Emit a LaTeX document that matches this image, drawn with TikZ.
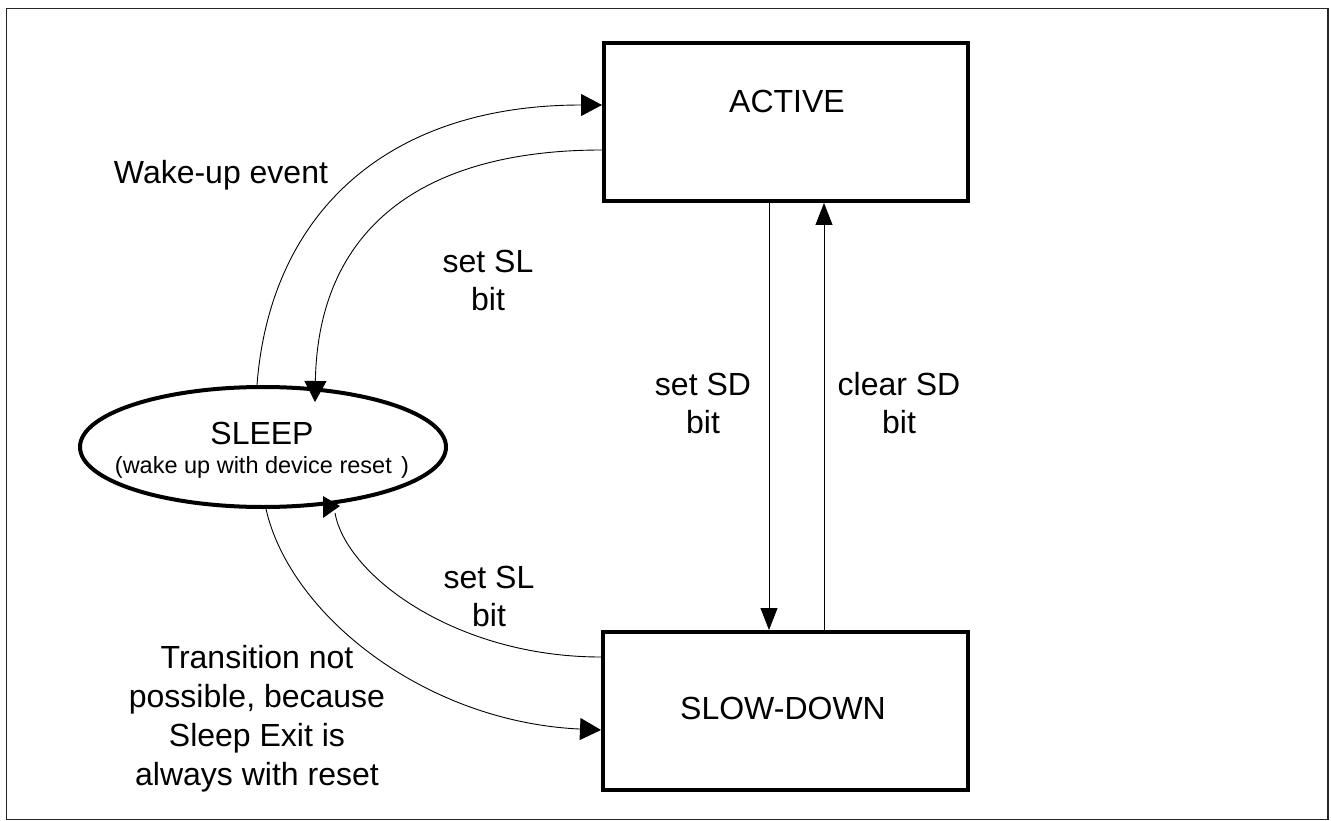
\documentclass[tikz,border=0pt]{standalone}
\usepackage{fontspec}
\setmainfont{Liberation Sans}
\usetikzlibrary{arrows.meta,shapes.geometric}
\begin{document}
\begin{tikzpicture}[x=1pt,y=-1pt,
  state/.style={draw, line width=4pt, rectangle, minimum width=364pt, minimum height=158pt, inner sep=0pt},
  conn/.style={line width=0.9pt},
  cta/.style={conn, -{Triangle[length=21pt,width=22pt]}},
  vta/.style={conn, -{Triangle[length=22pt,width=17pt]}},
  lbl/.style={font=\fontsize{32}{38}\selectfont, align=center, inner sep=0pt},
]
\useasboundingbox (0,0) rectangle (1331,821);
\draw[line width=1.3pt, black!85] (6.5,8.5) rectangle (1328,819.5);

% states
\node[state] (active) at (786,122) {};
\node[state, minimum width=365pt] (slow) at (785.5,711) {};
\node[draw, ellipse, line width=4pt, minimum width=366pt, minimum height=120pt, inner sep=0pt] (sleep) at (263,447) {};

\node[lbl] (tactive) at (787,101) {ACTIVE};
\node[lbl] (tslow) at (783,708) {SLOW-DOWN};
\node[lbl] (tsleep) at (262,433) {SLEEP};
\node[font=\fontsize{23.5}{28}\selectfont, inner sep=0pt] (tsub) at (262,467) {(wake up with device reset\hspace{0.4em})};

% labels
\node[lbl] (lwake) at (221,175) {Wake-up event};
\node[lbl] (lsl1) at (488,280) {set SL\\bit};
\node[lbl] (lsd) at (703,403) {set SD\\bit};
\node[lbl] (lcsd) at (899,403) {clear SD\\bit};
\node[lbl] (lsl2) at (489,596) {set SL\\bit};
\node[lbl, font=\fontsize{32}{39}\selectfont] (ltrans) at (257,719) {Transition not\\possible, because\\Sleep Exit is\\always with reset};

% connectors
\coordinate (sleepin) at (315,402);
\coordinate (sleepbot) at (335,513);
\draw[cta] (sleep.north -| 257,0) .. controls (270,215) and (385,105) .. (active.west |- 0,105);
\draw[cta] (active.west |- 0,150) .. controls (420,150) and (318,230) .. (sleepin);
\draw[conn] (slow.west |- 0,657) .. controls (455,657) and (346,575) .. (sleepbot);
\fill (323,496) -- (340,506) -- (323,518) -- cycle;
\draw[cta] (sleep.south -| 266,0) .. controls (290,615) and (425,722) .. (slow.west |- 0,730);
\draw[vta] (active.south -| 769,0) -- (slow.north -| 769,0);
\draw[vta] (slow.north -| 824,0) -- (active.south -| 824,0);
\end{tikzpicture}
\end{document}
